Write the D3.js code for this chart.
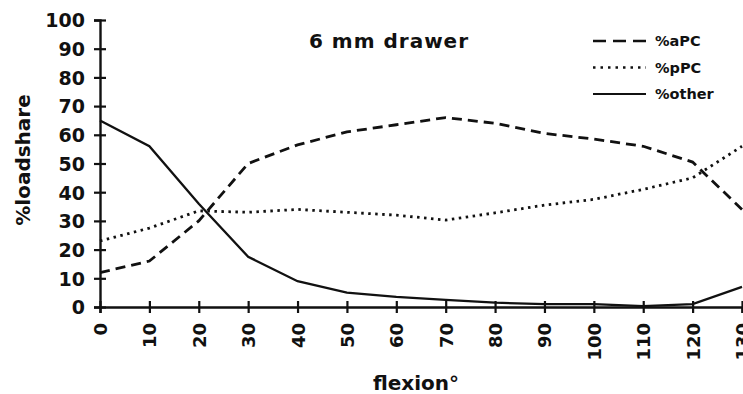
<!DOCTYPE html>
<html>
<head>
<meta charset="utf-8">
<script src="https://cdn.jsdelivr.net/npm/d3@7"></script>
<style>
  body { margin: 0; background: #fff; }
  svg text { font-family: "DejaVu Sans", sans-serif; font-weight: bold; fill: #111; }
</style>
</head>
<body>
<div id="chart"></div>
<script>
// flexion angles (degrees)
const flexion = [0, 10, 20, 30, 40, 50, 60, 70, 80, 90, 100, 110, 120, 130];
// load share per structure (%)
const aPC   = [12, 16, 30, 50, 56.5, 61, 63.5, 66, 64, 60.5, 58.5, 56, 50.5, 34];
const pPC   = [23, 27.5, 33.5, 33, 34, 33, 32, 30.3, 32.8, 35.5, 37.5, 41, 45, 56];
const other = [65, 56, 36, 17.5, 9, 5, 3.5, 2.5, 1.5, 1, 1, 0.3, 1, 7];
const yTicks = [0, 10, 20, 30, 40, 50, 60, 70, 80, 90, 100];

const series = [
  { name: "%aPC",   values: aPC,   dash: "10,6" },
  { name: "%pPC",   values: pPC,   dash: "2.5,4.5" },
  { name: "%other", values: other, dash: null }
];

const W = 743, H = 394;
const svg = d3.select('#chart').append('svg')
  .attr("width", W)
  .attr("height", H);

// scales
const x = d3.scaleLinear().domain([0, 130]).range([100, 742]);
const y = d3.scaleLinear().domain([0, 100]).range([307, 20]);

// Y axis, ticks crossing the line
const yAxis = svg.append("g")
  .attr("transform", "translate(" + x(0) + ",0)")
  .call(d3.axisLeft(y).tickValues(yTicks).tickSize(6).tickPadding(9));
yAxis.select(".domain").attr("stroke", "#111").attr("stroke-width", 2.4);
yAxis.selectAll(".tick line").attr("x2", -6).attr("x1", 6).attr("stroke", "#111").attr("stroke-width", 2.2);
yAxis.selectAll(".tick text").style("font-size", "19px").attr("dy", "0.36em");

// X axis
const xAxis = svg.append("g")
  .attr("transform", "translate(0," + y(0) + ")")
  .call(d3.axisBottom(x).tickValues(flexion).tickSize(6));
xAxis.select(".domain").attr("stroke", "#111").attr("stroke-width", 2.4);
xAxis.selectAll(".tick line").attr("y1", -6).attr("y2", 6).attr("stroke", "#111").attr("stroke-width", 2.2);
xAxis.selectAll(".tick text")
  .style("font-size", "18px")
  .attr("text-anchor", "end")
  .attr("dominant-baseline", "central")
  .attr("dy", null)
  .attr("y", 0)
  .attr("transform", "translate(0,16) rotate(-90)");

// lines
const line = d3.line()
  .x(function (d, i) { return x(flexion[i]); })
  .y(function (d) { return y(d); });

svg.append("g").selectAll("path")
  .data(series)
  .enter()
  .append("path")
    .attr("d", function (d) { return line(d.values); })
    .attr("fill", "none")
    .attr("stroke", "#111")
    .attr("stroke-width", function (d) { return d.dash ? 2.8 : 2.3; })
    .attr("stroke-dasharray", function (d) { return d.dash; });

// legend
const legend = svg.append("g").selectAll("g")
  .data(series)
  .enter()
  .append("g")
    .attr("transform", function (d, i) { return "translate(593," + (41 + i * 26.5) + ")"; });
legend.append("line")
  .attr("x1", 0).attr("x2", 53)
  .attr("stroke", "#111")
  .attr("stroke-width", function (d) { return d.dash ? 2.6 : 2.2; })
  .attr("stroke-dasharray", function (d) { return d.dash ? (d.name === "%aPC" ? "13,7" : "2.5,5") : null; });
legend.append("text")
  .attr("x", 62)
  .attr("dominant-baseline", "central")
  .style("font-size", "14.5px")
  .text(function (d) { return d.name; });

// title and axis labels
svg.append("text")
  .attr("x", 389).attr("y", 48)
  .attr("text-anchor", "middle")
  .style("font-size", "20px")
  .style("letter-spacing", "1px")
  .text("6 mm drawer");

svg.append("text")
  .attr("x", 416).attr("y", 390)
  .attr("text-anchor", "middle")
  .style("font-size", "20px")
  .text("flexion°");

svg.append("text")
  .attr("transform", "translate(30,160) rotate(-90)")
  .attr("text-anchor", "middle")
  .style("font-size", "20px")
  .text("%loadshare");
</script>
</body>
</html>
